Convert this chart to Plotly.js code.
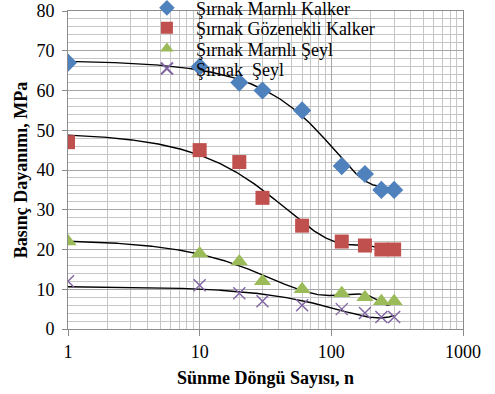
<!DOCTYPE html>
<html>
<head>
<meta charset="utf-8">
<script src="https://cdn.plot.ly/plotly-3.0.1.min.js"></script>
<style>
  html, body { margin: 0; padding: 0; background: #fff; }
  #chart { width: 495px; height: 394px; }
</style>
</head>
<body>
<div id="chart"></div>
<script>
// Creep cycle counts (x) and compressive strength (MPa) per rock type
const cycles = [1, 10, 20, 30, 60, 120, 180, 240, 300];
const marnliKalker = [67, 66, 62, 60, 55, 41, 39, 35, 35];
const gozenekliKalker = [47, 45, 42, 33, 26, 22, 21, 20, 20];
const marnliSeyl = [22, 19, 17, 12, 10, 9, 8, 7, 7];
const seyl = [12, 11, 9, 7, 6, 5, 4, 3, 3];

const seriesNames = ['Şırnak Marnlı Kalker', 'Şırnak Gözenekli Kalker', 'Şırnak Marnlı Şeyl', 'Şırnak  Şeyl'];
// polynomial order of each series' trendline
const trendOrders = [4, 4, 4, 2];
const xTickVals = [1, 10, 100, 1000];
const xTickText = ['1', '10', '100', '1000'];

// Least-squares polynomial trendline in linear x, evaluated across the data range
function polyFit(xs, ys, degree) {
  const s = Math.max(...xs);
  const n = degree + 1;
  const A = Array.from({length: n}, () => new Array(n + 1).fill(0));
  for (let k = 0; k < xs.length; k++) {
    const t = xs[k] / s;
    const p = [];
    for (let i = 0; i < n; i++) p.push(Math.pow(t, i));
    for (let i = 0; i < n; i++) {
      for (let j = 0; j < n; j++) A[i][j] += p[i] * p[j];
      A[i][n] += p[i] * ys[k];
    }
  }
  for (let c = 0; c < n; c++) {
    let piv = c;
    for (let r = c + 1; r < n; r++) if (Math.abs(A[r][c]) > Math.abs(A[piv][c])) piv = r;
    [A[c], A[piv]] = [A[piv], A[c]];
    for (let r = 0; r < n; r++) {
      if (r === c) continue;
      const f = A[r][c] / A[c][c];
      for (let j = c; j <= n; j++) A[r][j] -= f * A[c][j];
    }
  }
  const coef = A.map((row, i) => row[n] / row[i]);
  return x => coef.reduce((acc, a, i) => acc + a * Math.pow(x / s, i), 0);
}

function trendTrace(ys, degree) {
  const f = polyFit(cycles, ys, degree);
  const lo = Math.log10(cycles[0]), hi = Math.log10(cycles[cycles.length - 1]);
  const xs = [], vs = [];
  for (let i = 0; i <= 300; i++) {
    const x = Math.pow(10, lo + (hi - lo) * i / 300);
    xs.push(x); vs.push(f(x));
  }
  return {x: xs, y: vs, mode: 'lines', line: {color: '#000', width: 1.4},
          showlegend: false, hoverinfo: 'skip'};
}

const markerStyles = [
  {symbol: 'diamond', color: '#4F81BD', size: 14, line: {width: 0}},
  {symbol: 'square', color: '#C0504D', size: 14, line: {width: 0}},
  {symbol: 'triangle-up', color: '#9BBB59', size: 15, line: {width: 0}},
  {symbol: 'x-thin', color: '#8064A2', size: 12, line: {color: '#8064A2', width: 1.4}}
];
const allSeries = [marnliKalker, gozenekliKalker, marnliSeyl, seyl];
const legendIds = ['legend', 'legend2', 'legend3', 'legend4'];

const traces = [];
allSeries.forEach((ys, i) => traces.push(trendTrace(ys, trendOrders[i])));
allSeries.forEach((ys, i) => {
  traces.push({x: cycles, y: ys, mode: 'markers', name: seriesNames[i],
               legend: legendIds[i], marker: markerStyles[i]});
});

const serif = '"Liberation Serif", "Times New Roman", serif';

// one legend box per series so the rows sit close together
const legendRowY = [1.009, 0.946, 0.881, 0.818];
function legendBox(y) {
  return {x: 0.177, y: y, xanchor: 'left', yanchor: 'middle', bgcolor: 'rgba(0,0,0,0)',
          borderwidth: 0, itemwidth: 48, itemsizing: 'constant',
          font: {family: serif, size: 18, color: '#000'}};
}

const layout = {
  width: 495, height: 394,
  margin: {l: 68, r: 32, t: 11, b: 65, autoexpand: false},
  paper_bgcolor: '#fff', plot_bgcolor: '#fff',
  font: {family: serif, size: 18, color: '#000'},
  showlegend: true,
  legend: legendBox(legendRowY[0]),
  legend2: legendBox(legendRowY[1]),
  legend3: legendBox(legendRowY[2]),
  legend4: legendBox(legendRowY[3]),
  xaxis: {
    type: 'log', range: [0, 3],
    tickvals: xTickVals, ticktext: xTickText,
    ticks: 'outside', ticklen: 6, tickcolor: '#8c8c8c',
    showline: true, linecolor: '#8c8c8c', linewidth: 1, mirror: true,
    showgrid: true, gridcolor: '#a6a6a6', gridwidth: 1,
    minor: {showgrid: true, gridcolor: '#c6c6c6', gridwidth: 1, dtick: 'D1'},
    zeroline: false,
    tickfont: {family: serif, size: 18},
    title: {text: '<b>Sünme Döngü Sayısı, n</b>', font: {family: serif, size: 18}, standoff: 10}
  },
  yaxis: {
    range: [0, 80], dtick: 10,
    ticks: 'outside', ticklen: 5, tickcolor: '#8c8c8c', ticklabelstandoff: 4,
    showline: true, linecolor: '#8c8c8c', linewidth: 1, mirror: true,
    showgrid: true, gridcolor: '#a6a6a6', gridwidth: 1,
    minor: {showgrid: true, gridcolor: '#c6c6c6', gridwidth: 1, dtick: 2},
    zeroline: false,
    tickfont: {family: serif, size: 18},
    title: {text: '<b>Basınç Dayanımı, MPa</b>', font: {family: serif, size: 18}, standoff: 4}
  }
};

Plotly.newPlot('chart', traces, layout, {staticPlot: true, displayModeBar: false});
</script>
</body>
</html>
